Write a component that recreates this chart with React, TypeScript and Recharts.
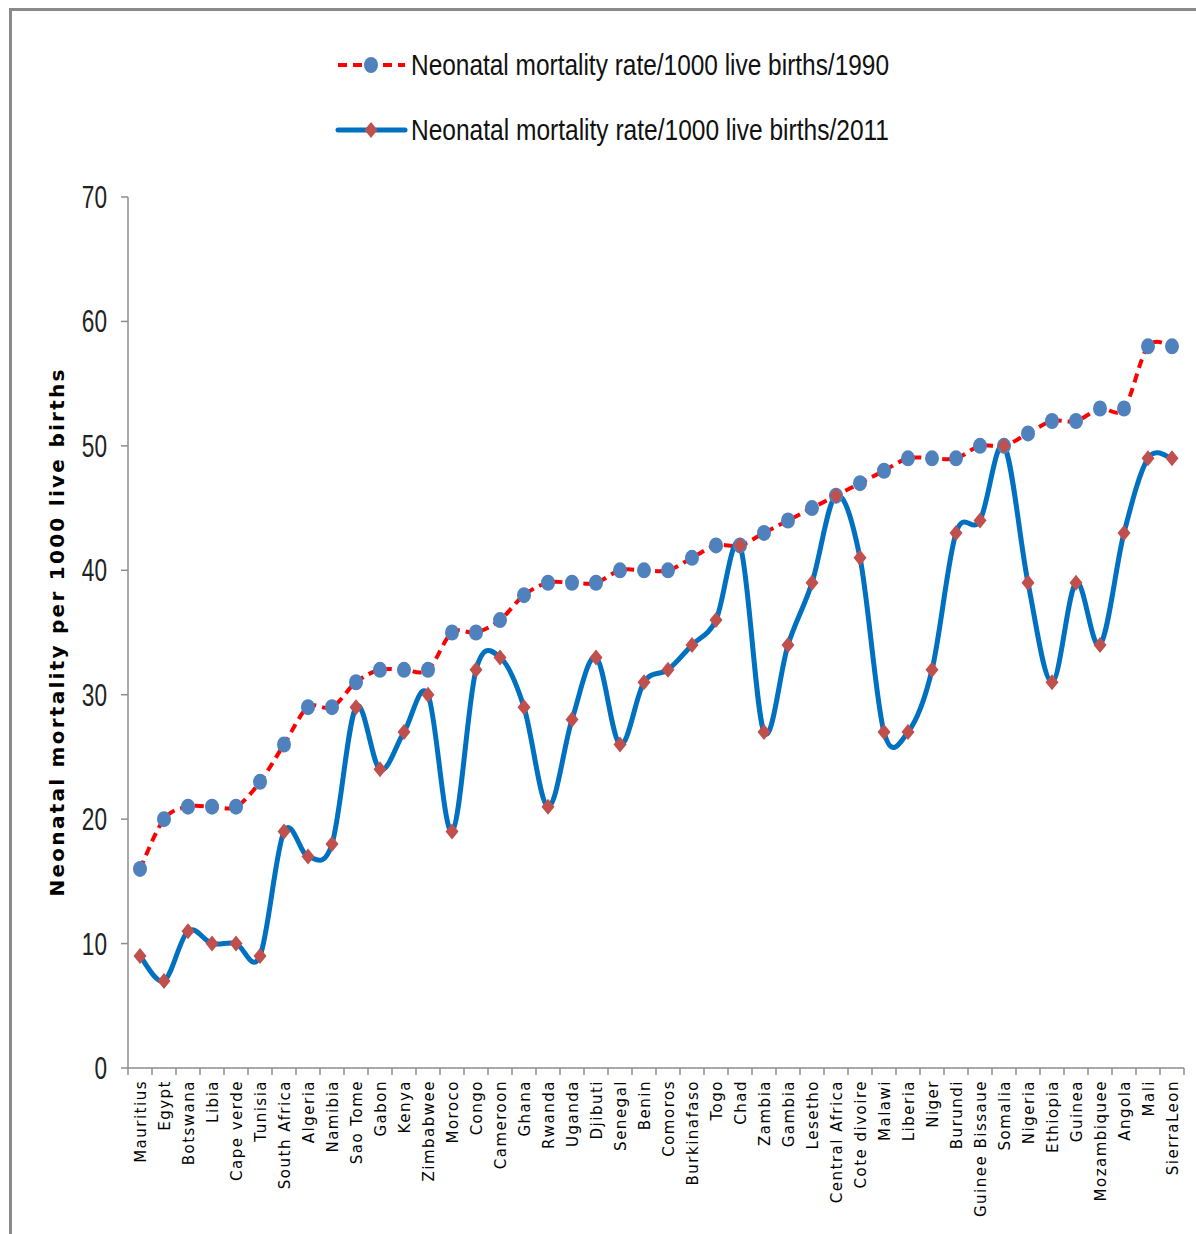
import React from 'react';
import { LineChart, Line, XAxis, YAxis } from 'recharts';

const countries = [
  'Mauritius', 'Egypt', 'Botswana', 'Libia', 'Cape verde', 'Tunisia', 'South Africa', 'Algeria',
  'Namibia', 'Sao Tome', 'Gabon', 'Kenya', 'Zimbabwee', 'Moroco', 'Congo', 'Cameroon', 'Ghana',
  'Rwanda', 'Uganda', 'Djibuti', 'Senegal', 'Benin', 'Comoros', 'Burkinafaso', 'Togo', 'Chad',
  'Zambia', 'Gambia', 'Lesetho', 'Central Africa', 'Cote divoire', 'Malawi', 'Liberia', 'Niger',
  'Burundi', 'Guinee Bissaue', 'Somalia', 'Nigeria', 'Ethiopia', 'Guinea', 'Mozambiquee', 'Angola',
  'Mali', 'SierraLeon',
];

const rate1990 = [
  16, 20, 21, 21, 21, 23, 26, 29, 29, 31, 32, 32, 32, 35, 35, 36, 38, 39, 39, 39, 40, 40,
  40, 41, 42, 42, 43, 44, 45, 46, 47, 48, 49, 49, 49, 50, 50, 51, 52, 52, 53, 53, 58, 58,
];

const rate2011 = [
  9, 7, 11, 10, 10, 9, 19, 17, 18, 29, 24, 27, 30, 19, 32, 33, 29, 21, 28, 33, 26, 31,
  32, 34, 36, 42, 27, 34, 39, 46, 41, 27, 27, 32, 43, 44, 50, 39, 31, 39, 34, 43, 49, 49,
];

const yTicks = [0, 10, 20, 30, 40, 50, 60, 70];

const label1990 = 'Neonatal mortality rate/1000 live births/1990';
const label2011 = 'Neonatal mortality rate/1000 live births/2011';

const data = countries.map((name, i) => ({ name, y1990: rate1990[i], y2011: rate2011[i] }));

const NARROW = '"Liberation Sans Narrow", "Arial Narrow", "Liberation Sans", sans-serif';
const WIDE = '"DejaVu Sans", Verdana, sans-serif';
const AXIS_GREY = '#8c8c8c';

// Excel-like smoothed line (Catmull-Rom through every point)
const smoothCurve = (context: any) => {
  let xs: number[] = [];
  let ys: number[] = [];
  return {
    areaStart() {},
    areaEnd() {},
    lineStart() {
      xs = [];
      ys = [];
    },
    point(x: number, y: number) {
      xs.push(+x);
      ys.push(+y);
    },
    lineEnd() {
      const n = xs.length;
      if (!n) return;
      context.moveTo(xs[0], ys[0]);
      for (let i = 0; i < n - 1; i++) {
        const a = Math.max(i - 1, 0);
        const d = Math.min(i + 2, n - 1);
        const c1x = xs[i] + (xs[i + 1] - xs[a]) / 6;
        const c1y = ys[i] + (ys[i + 1] - ys[a]) / 6;
        const c2x = xs[i + 1] - (xs[d] - xs[i]) / 6;
        const c2y = ys[i + 1] - (ys[d] - ys[i]) / 6;
        context.bezierCurveTo(c1x, c1y, c2x, c2y, xs[i + 1], ys[i + 1]);
      }
    },
  };
};

const CircleDot = ({ cx, cy }: any) =>
  cx == null ? null : <ellipse cx={cx} cy={cy} rx={7} ry={8} fill="#4F81BD" />;

const DiamondDot = ({ cx, cy }: any) =>
  cx == null ? null : (
    <polygon
      points={`${cx},${cy - 8} ${cx + 6.5},${cy} ${cx},${cy + 8} ${cx - 6.5},${cy}`}
      fill="#C0504D"
    />
  );

const CountryTick = ({ x, y, payload, index }: any) => {
  const half = 12;
  const last = index === countries.length - 1;
  return (
    <g>
      <line x1={x - half} x2={x - half} y1={y} y2={y + 7} stroke={AXIS_GREY} strokeWidth={1.5} />
      {last && <line x1={x + half} x2={x + half} y1={y} y2={y + 7} stroke={AXIS_GREY} strokeWidth={1.5} />}
      <text
        transform={`translate(${x + 5.5},${y + 12}) rotate(-90)`}
        textAnchor="end"
        fontFamily={WIDE}
        fontSize={15}
        letterSpacing={1.5}
        fill="#000"
      >
        {payload.value}
      </text>
    </g>
  );
};

const NumberTick = ({ x, y, payload }: any) => (
  <g transform={`translate(${x + 2},${y + 11}) scale(0.73,1)`}>
    <text textAnchor="end" fontFamily={NARROW} fontSize={31} fill="#222">
      {payload.value}
    </text>
  </g>
);

const YTitle = () => (
  <text
    transform="translate(57,633) rotate(-90)"
    textAnchor="middle"
    dominantBaseline="central"
    fontFamily={WIDE}
    fontWeight="bold"
    fontSize={20}
    textLength={527}
    lengthAdjust="spacing"
    fill="#000"
  >
    Neonatal mortality per 1000 live births
  </text>
);

const LegendBlock = () => (
  <svg width={760} height={160} style={{ position: 'absolute', left: 320, top: 20 }}>
    <line x1={18} x2={85} y1={45} y2={45} stroke="#FF0000" strokeWidth={4} strokeDasharray="9 6" />
    <CircleDot cx={51} cy={45} />
    <text x={91} y={45} dy={10} fontFamily={NARROW} fontSize={29} fill="#111" textLength={478} lengthAdjust="spacingAndGlyphs">
      {label1990}
    </text>
    <line x1={18} x2={85} y1={110} y2={110} stroke="#0070C0" strokeWidth={5} strokeLinecap="round" />
    <DiamondDot cx={51} cy={110} />
    <text x={91} y={110} dy={10} fontFamily={NARROW} fontSize={29} fill="#111" textLength={478} lengthAdjust="spacingAndGlyphs">
      {label2011}
    </text>
  </svg>
);

export default function App() {
  return (
    <div style={{ position: 'relative', width: 1196, height: 1234, background: '#fff', overflow: 'hidden' }}>
      <style>{'body{margin:0;overflow:hidden;}'}</style>
      <div
        style={{
          position: 'absolute',
          left: 9,
          top: 8,
          width: 1300,
          height: 1300,
          borderTop: '3px solid #8a8a8a',
          borderLeft: '3px solid #8a8a8a',
        }}
      />
      <LegendBlock />
      <div style={{ position: 'absolute', left: 0, top: 0 }}>
        <LineChart width={1196} height={1234} data={data} margin={{ top: 197, right: 12, bottom: 16, left: 0 }}>
          <XAxis
            dataKey="name"
            interval={0}
            height={150}
            padding={{ left: 12, right: 12 }}
            tickSize={0}
            tickMargin={0}
            tickLine={false}
            axisLine={{ stroke: AXIS_GREY, strokeWidth: 1.5 }}
            tick={<CountryTick />}
          />
          <YAxis
            width={128}
            domain={[0, 70]}
            ticks={yTicks}
            tickSize={7}
            tickMargin={16}
            axisLine={{ stroke: AXIS_GREY, strokeWidth: 1.5 }}
            tickLine={{ stroke: AXIS_GREY, strokeWidth: 1.5 }}
            tick={<NumberTick />}
            label={<YTitle />}
          />
          <Line
            dataKey="y1990"
            type={smoothCurve as any}
            stroke="#FF0000"
            strokeWidth={4}
            strokeDasharray="9 6"
            dot={<CircleDot />}
            activeDot={false}
            isAnimationActive={false}
          />
          <Line
            dataKey="y2011"
            type={smoothCurve as any}
            stroke="#0070C0"
            strokeWidth={5}
            dot={<DiamondDot />}
            activeDot={false}
            isAnimationActive={false}
          />
        </LineChart>
      </div>
    </div>
  );
}
